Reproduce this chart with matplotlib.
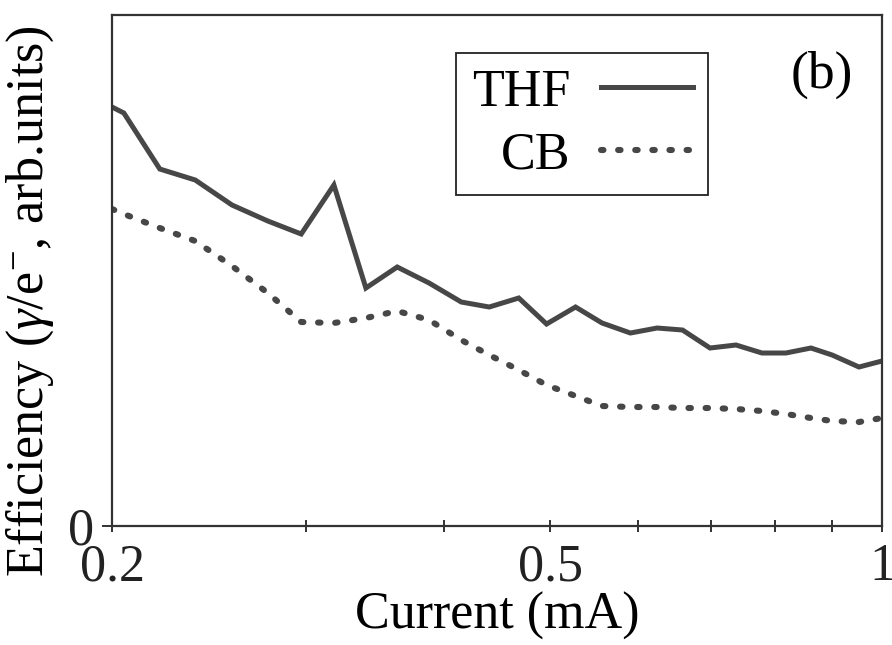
import matplotlib
matplotlib.use("Agg")
import matplotlib.pyplot as plt
from matplotlib.ticker import FixedLocator, FixedFormatter, NullFormatter

plt.rcParams['font.family'] = ['Liberation Serif', 'DejaVu Serif']
plt.rcParams['mathtext.fontset'] = 'custom'
plt.rcParams['mathtext.rm'] = 'Liberation Serif'
plt.rcParams['mathtext.it'] = 'Liberation Serif:italic'

# current (mA), shared by both series
current = [0.200, 0.205, 0.221, 0.238, 0.257, 0.277, 0.297, 0.318, 0.340, 0.363,
           0.388, 0.415, 0.440, 0.468, 0.496, 0.527, 0.557, 0.591, 0.625, 0.659,
           0.698, 0.737, 0.778, 0.818, 0.862, 0.901, 0.953, 1.000]

# efficiency, arbitrary units
thf = [419, 413, 357, 346, 321, 305, 292, 341, 238, 259,
       243, 224, 219, 228, 202, 219, 203, 193, 198, 196,
       178, 181, 173, 173, 178, 171, 159, 165]
cb = [317, 312, 298, 285, 260, 233, 204, 203, 208, 215,
      206, 186, 171, 156, 141, 130, 120, 119, 119, 118,
      118, 117, 115, 112, 108, 105, 104, 108]

major_ticks = [0.2, 0.5, 1.0]
major_labels = ['0.2', '0.5', '1']
minor_ticks = [0.3, 0.4, 0.6, 0.7, 0.8, 0.9]

line_col = '#474747'
fs = 37.5

fig = plt.figure(figsize=(8.92, 6.45), dpi=100)
ax = fig.add_axes([0.1256, 0.1845, 0.8632, 0.7922])

ax.plot(current, thf, color=line_col, lw=3.6, solid_joinstyle='miter', label='THF')
ax.plot(current, cb, color=line_col, lw=4.4, linestyle=(0, (0.4, 2.4)),
        dash_capstyle='round', label='CB')

ax.set_xscale('log')
ax.set_xlim(0.2, 1.0)
ax.set_ylim(0, 511)

ax.xaxis.set_major_locator(FixedLocator(major_ticks))
ax.xaxis.set_major_formatter(FixedFormatter(major_labels))
ax.xaxis.set_minor_locator(FixedLocator(minor_ticks))
ax.xaxis.set_minor_formatter(NullFormatter())
ax.set_yticks([0])
ax.set_yticklabels(['0'])

ax.tick_params(axis='x', which='both', direction='inout', length=9, width=1.3,
               colors='#222222', labelsize=fs, pad=8)
ax.tick_params(axis='y', which='both', direction='out', length=7, width=1.3,
               colors='#222222', labelsize=fs, pad=6)
for s in ax.spines.values():
    s.set_linewidth(1.6)
    s.set_color('#333333')

ax.set_xlabel('Current (mA)', fontsize=fs)
ax.set_ylabel('Efficiency ($\\gamma$/e$^{-}$, arb.units)', fontsize=fs)
ax.xaxis.set_label_coords(0.5, -0.128)
ax.yaxis.set_label_coords(-0.073, 0.44)

leg = ax.legend(loc='upper left', bbox_to_anchor=(0.447, 0.9256), borderaxespad=0,
                markerfirst=False, fontsize=fs, frameon=True, fancybox=False,
                edgecolor='#222222', framealpha=1, handlelength=1.75,
                handletextpad=0.6, borderpad=0.3, labelspacing=0.28)
leg.get_frame().set_linewidth(1.3)

ax.text(0.922, 0.883, '(b)', transform=ax.transAxes, fontsize=fs + 1,
        ha='center', va='center')

fig.savefig('out.png', dpi=100)
